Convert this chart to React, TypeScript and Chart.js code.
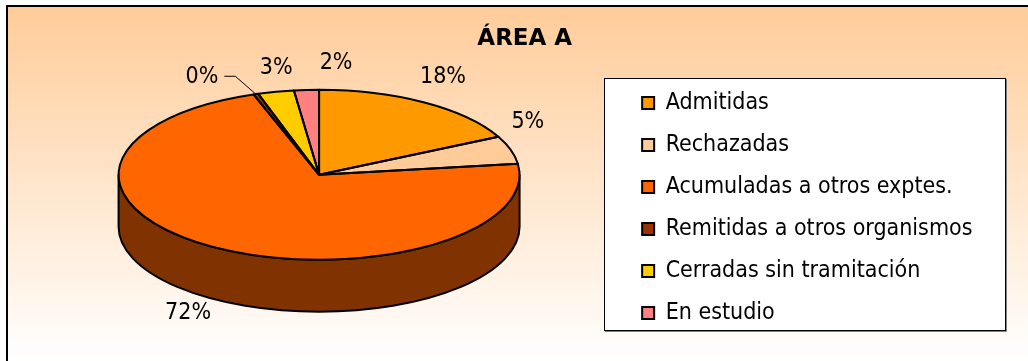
import React, { useEffect, useRef } from 'react';
import { Chart, registerables } from 'chart.js';

Chart.register(...registerables);

// ---- data ----
const TITLE = 'ÁREA A';
const categories = [
  'Admitidas',
  'Rechazadas',
  'Acumuladas a otros exptes.',
  'Remitidas a otros organismos',
  'Cerradas sin tramitación',
  'En estudio',
];
const values = [17.6, 5.3, 71.7, 0.4, 2.9, 2.0];
const topColors = ['#FF9900', '#FFCC99', '#FF6600', '#993300', '#FFCC00', '#FF8080'];

// ---- display settings ----
const LABEL_FONT = "'DejaVu Sans Condensed', 'DejaVu Sans', sans-serif";
const TITLE_FONT = "'DejaVu Sans', sans-serif";
const DEPTH = 52; // thickness of the 3D disc (px)
const TILT = 85 / 200.5; // vertical squash of the top face
const labelNudges = [
  [7, -7],
  [-4, -21],
  [-14, -5],
  [-47, 4],
  [5, -2],
  [31, -5],
];

function shade(hex: string, f: number) {
  const n = parseInt(hex.slice(1), 16);
  const r = Math.round(((n >> 16) & 255) * f);
  const g = Math.round(((n >> 8) & 255) * f);
  const b = Math.round((n & 255) * f);
  return `rgb(${r},${g},${b})`;
}

function legendFrame(chart: any) {
  const lg = chart.legend;
  const hb = lg && lg.legendHitBoxes;
  if (!hb || !hb.length) return null;
  const first = hb[0];
  const last = hb[hb.length - 1];
  const x0 = Math.round(first.left - 38);
  const x1 = Math.round(lg.right + 22.5);
  const y0 = Math.round(first.top - 14);
  const y1 = Math.round(last.top + last.height + 5);
  return { x0, x1, y0, y1 };
}

const pie3d = {
  id: 'pie3d',
  afterLayout(chart: any) {
    const tb = chart.titleBlock;
    if (tb) {
      tb.left += 26;
      tb.right += 26;
    }
  },
  beforeDraw(chart: any) {
    const { ctx, width, height } = chart;
    ctx.save();
    ctx.fillStyle = '#FFFFFF';
    ctx.fillRect(0, 0, width, height);
    const g = ctx.createLinearGradient(0, 6, 0, height);
    g.addColorStop(0, '#FFCC99');
    g.addColorStop(1, '#FFFFFF');
    ctx.fillStyle = g;
    ctx.fillRect(7, 6, width - 7, height - 6);
    ctx.strokeStyle = '#000';
    ctx.lineWidth = 2;
    ctx.beginPath();
    ctx.moveTo(7, height);
    ctx.lineTo(7, 6);
    ctx.lineTo(width, 6);
    ctx.stroke();
    const f = legendFrame(chart);
    if (f) {
      ctx.fillStyle = '#FFFFFF';
      ctx.fillRect(f.x0, f.y0, f.x1 - f.x0, f.y1 - f.y0);
    }
    ctx.restore();
  },
  beforeDatasetsDraw(chart: any) {
    const { ctx } = chart;
    const arcs = chart.getDatasetMeta(0).data;
    if (!arcs.length) return;
    const cx = arcs[0].x;
    const cy0 = arcs[0].y;
    const r = arcs[0].outerRadius;
    const cy = cy0 - DEPTH / 2;
    const ry = r * TILT;
    ctx.save();
    ctx.lineWidth = 2;
    ctx.strokeStyle = '#000';
    ctx.lineJoin = 'round';
    arcs.forEach((arc: any, i: number) => {
      const s = Math.max(arc.startAngle, 0);
      const e = Math.min(arc.endAngle, Math.PI);
      if (e <= s) return;
      ctx.beginPath();
      ctx.ellipse(cx, cy, r, ry, 0, s, e, false);
      ctx.lineTo(cx + r * Math.cos(e), cy + ry * Math.sin(e) + DEPTH);
      ctx.ellipse(cx, cy + DEPTH, r, ry, 0, e, s, true);
      ctx.closePath();
      ctx.fillStyle = shade(topColors[i], 0.5);
      ctx.fill();
      ctx.stroke();
    });
    ctx.restore();
    // projection of the top face
    ctx.save();
    ctx.translate(cx, cy);
    ctx.scale(1, TILT);
    ctx.translate(-cx, -cy0);
  },
  afterDatasetsDraw(chart: any) {
    const { ctx } = chart;
    ctx.restore();
    const arcs = chart.getDatasetMeta(0).data;
    if (!arcs.length) return;
    const cx = arcs[0].x;
    const cy = arcs[0].y - DEPTH / 2;
    const r = arcs[0].outerRadius;
    const ry = r * TILT;
    ctx.save();
    ctx.lineWidth = 2;
    ctx.strokeStyle = '#000';
    ctx.lineJoin = 'round';
    arcs.forEach((arc: any) => {
      const s = arc.startAngle;
      const e = arc.endAngle;
      ctx.beginPath();
      ctx.moveTo(cx, cy);
      ctx.lineTo(cx + r * Math.cos(s), cy + ry * Math.sin(s));
      ctx.ellipse(cx, cy, r, ry, 0, s, e, false);
      ctx.closePath();
      ctx.stroke();
    });
    // percentage labels
    const total = values.reduce((a, b) => a + b, 0);
    ctx.font = `23px ${LABEL_FONT}`;
    ctx.fillStyle = '#000';
    ctx.textAlign = 'center';
    ctx.textBaseline = 'middle';
    arcs.forEach((arc: any, i: number) => {
      const mid = (arc.startAngle + arc.endAngle) / 2;
      const ux = Math.cos(mid);
      const uy = Math.sin(mid);
      const [nx, ny] = labelNudges[i];
      const tx = cx + (r + 22) * ux + nx;
      const ty = cy + (ry + 22) * uy + (uy > 0 ? DEPTH : 0) + ny;
      const txt = Math.round((values[i] / total) * 100) + '%';
      ctx.fillText(txt, tx, ty);
      if (Math.hypot(nx, ny) > 40) {
        const ex = cx + r * ux;
        const ey = cy + ry * uy;
        const w = ctx.measureText(txt).width;
        const side = ex > tx ? 1 : -1;
        const sx = tx + side * (w / 2 + 6);
        const mx = sx + side * 11;
        ctx.lineWidth = 1;
        ctx.beginPath();
        ctx.moveTo(sx, ty - 1);
        ctx.lineTo(mx, ty - 1);
        ctx.lineTo(ex, ey);
        ctx.stroke();
      }
    });
    ctx.restore();
  },
  afterDraw(chart: any) {
    const f = legendFrame(chart);
    if (!f) return;
    const { ctx } = chart;
    ctx.save();
    ctx.strokeStyle = '#808080';
    ctx.lineWidth = 1;
    ctx.beginPath();
    ctx.moveTo(f.x0 + 1, f.y1 + 1.5);
    ctx.lineTo(f.x1 + 1.5, f.y1 + 1.5);
    ctx.lineTo(f.x1 + 1.5, f.y0 + 1);
    ctx.stroke();
    ctx.strokeStyle = '#000';
    ctx.strokeRect(f.x0 + 0.5, f.y0 + 0.5, f.x1 - f.x0, f.y1 - f.y0);
    ctx.restore();
  },
};

export default function App() {
  const ref = useRef<HTMLCanvasElement | null>(null);
  useEffect(() => {
    const canvas = ref.current;
    if (!canvas) return;
    const chart = new Chart(canvas, {
      type: 'pie',
      data: {
        labels: categories,
        datasets: [
          {
            data: values,
            backgroundColor: topColors,
            borderWidth: 0,
            clip: false,
          } as any,
        ],
      },
      options: {
        responsive: false,
        animation: false,
        events: [],
        radius: 200.5,
        layout: { padding: { left: 15, right: 45.5, top: 0, bottom: 12 } },
        plugins: {
          title: {
            display: true,
            text: TITLE,
            color: '#000',
            font: { family: TITLE_FONT, size: 23, weight: 'bold' },
            padding: { top: 25, bottom: 0 },
          },
          legend: {
            position: 'right',
            title: { display: true, text: ' ', font: { size: 10 }, padding: { top: 28, bottom: 27 } },
            labels: {
              color: '#000',
              font: { family: LABEL_FONT, size: 23 },
              boxWidth: 12,
              boxHeight: 12,
              padding: 19,
              generateLabels: () =>
                categories.map((c, i) => ({
                  text: c,
                  fillStyle: topColors[i],
                  strokeStyle: '#000',
                  fontColor: '#000',
                  lineWidth: 2,
                  hidden: false,
                  index: i,
                  datasetIndex: 0,
                })),
            },
          },
          tooltip: { enabled: false },
        },
      } as any,
      plugins: [pie3d],
    });
    return () => chart.destroy();
  }, []);
  return (
    <div style={{ position: 'fixed', left: 0, top: 0, width: 1028, height: 361 }}>
      <canvas ref={ref} width={1028} height={361} style={{ display: 'block' }} />
    </div>
  );
}
